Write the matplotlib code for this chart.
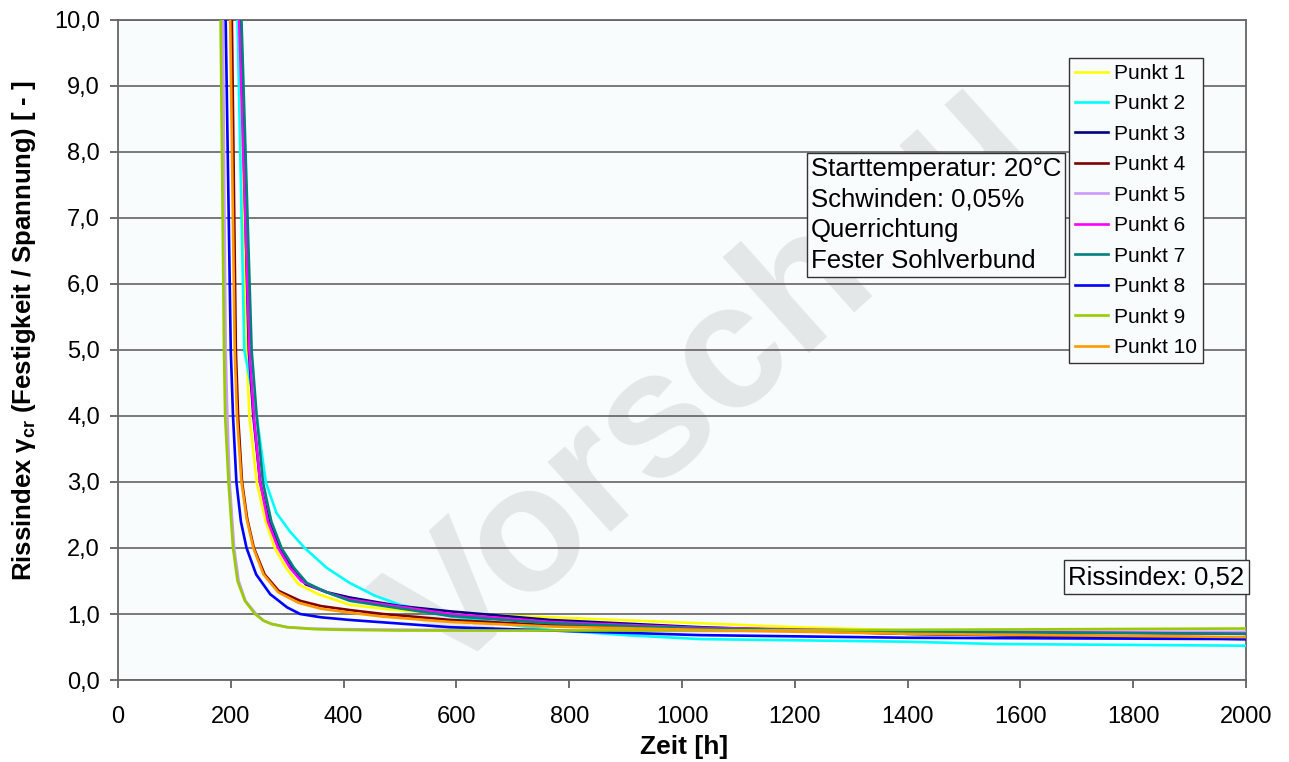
import numpy as np
import matplotlib.pyplot as plt

# Rissindex curves, hours vs. index (strength / stress)
labels = ["Punkt 1", "Punkt 2", "Punkt 3", "Punkt 4", "Punkt 5",
          "Punkt 6", "Punkt 7", "Punkt 8", "Punkt 9", "Punkt 10"]
colors = ["#FFFF00", "#00FFFF", "#000080", "#800000", "#CC99FF",
          "#FF00FF", "#008080", "#0000FF", "#99CC00", "#FF9900"]

t_p1 = [213, 214, 228, 233, 246, 262, 278, 298, 320, 355, 411, 480, 589, 766, 1032, 1200, 1400, 2000]
y_p1 = [11.0, 10.0, 5.0, 4.0, 3.0, 2.4, 2.0, 1.7, 1.45, 1.3, 1.14, 1.07, 1.0, 0.95, 0.86, 0.80, 0.75, 0.70]

t_p2 = [211, 212, 224, 246, 262, 281, 305, 331, 370, 411, 455, 500, 594, 677, 766, 900, 1032, 1400, 1560, 2000]
y_p2 = [11.0, 10.0, 5.0, 4.0, 3.0, 2.53, 2.25, 2.0, 1.7, 1.47, 1.28, 1.14, 0.96, 0.86, 0.76, 0.68, 0.62, 0.58, 0.545, 0.52]

t_p3 = [216, 217, 232, 240, 252, 268, 286, 308, 333, 370, 411, 500, 589, 766, 1032, 1400, 2000]
y_p3 = [11.0, 10.0, 5.0, 4.0, 3.0, 2.4, 2.0, 1.7, 1.45, 1.33, 1.25, 1.12, 1.04, 0.91, 0.80, 0.70, 0.62]

t_p4 = [201, 202, 209, 213, 220, 229, 241, 260, 285, 323, 360, 411, 470, 589, 766, 1032, 1400, 2000]
y_p4 = [11.0, 10.0, 5.0, 4.0, 3.0, 2.45, 2.0, 1.6, 1.35, 1.2, 1.12, 1.06, 1.0, 0.91, 0.83, 0.78, 0.70, 0.64]

t_p5 = [185, 186, 191, 194, 198, 206, 214, 226, 245, 258, 272, 300, 340, 400, 700, 1200, 2000]
y_p5 = [11.0, 10.0, 5.0, 4.0, 3.0, 2.0, 1.5, 1.2, 1.0, 0.9, 0.85, 0.8, 0.78, 0.77, 0.75, 0.74, 0.73]

t_p6 = [214, 215, 233, 241, 252, 266, 284, 305, 325, 350, 380, 411, 589, 766, 1032, 1400, 2000]
y_p6 = [11.0, 10.0, 5.0, 4.0, 3.0, 2.4, 2.0, 1.7, 1.5, 1.4, 1.3, 1.22, 1.0, 0.88, 0.79, 0.74, 0.70]

t_p7 = [218, 219, 237, 246, 257, 272, 290, 312, 335, 370, 411, 589, 766, 1032, 1400, 2000]
y_p7 = [11.0, 10.0, 5.0, 4.0, 3.0, 2.4, 2.0, 1.7, 1.47, 1.33, 1.20, 0.97, 0.86, 0.78, 0.73, 0.70]

t_p8 = [190, 191, 200, 204, 210, 218, 228, 245, 270, 300, 323, 360, 411, 589, 766, 1032, 1400, 2000]
y_p8 = [11.0, 10.0, 5.0, 4.0, 3.0, 2.4, 2.0, 1.6, 1.3, 1.1, 1.0, 0.95, 0.91, 0.80, 0.75, 0.68, 0.64, 0.62]

t_p9 = [181, 182, 188, 190, 196, 204, 212, 225, 243, 258, 272, 300, 350, 400, 500, 700, 1000, 1400, 2000]
y_p9 = [11.0, 10.0, 5.0, 4.0, 3.0, 2.0, 1.5, 1.2, 1.0, 0.9, 0.85, 0.80, 0.77, 0.76, 0.75, 0.75, 0.75, 0.76, 0.78]

t_p10 = [198, 199, 207, 211, 219, 228, 240, 258, 284, 320, 360, 411, 470, 589, 766, 1032, 1400, 2000]
y_p10 = [11.0, 10.0, 5.0, 4.0, 3.0, 2.45, 2.0, 1.6, 1.33, 1.17, 1.08, 1.02, 0.96, 0.88, 0.81, 0.76, 0.70, 0.65]

series_t = [t_p1, t_p2, t_p3, t_p4, t_p5, t_p6, t_p7, t_p8, t_p9, t_p10]
series_y = [y_p1, y_p2, y_p3, y_p4, y_p5, y_p6, y_p7, y_p8, y_p9, y_p10]

x_ticks = list(range(0, 2001, 200))
y_ticks = [0, 1, 2, 3, 4, 5, 6, 7, 8, 9, 10]

plt.rcParams["font.family"] = ["Liberation Sans", "DejaVu Sans"]

fig = plt.figure(figsize=(12.89, 7.62), dpi=100)
ax = fig.add_axes([0.0915, 0.1076, 0.8752, 0.8662])
ax.set_facecolor("#F8FCFC")

# background watermark
ax.text(0.55, 0.5, "Vorschau", transform=fig.transFigure, fontsize=128,
        fontweight="bold", color="#E4E7E7", rotation=42, ha="center",
        va="center", clip_on=False, zorder=0.2)

for tt, yy, c, lab in zip(series_t, series_y, colors, labels):
    ax.plot(tt, yy, color=c, lw=1.9, label=lab, zorder=3)

ax.set_xlim(0, 2000)
ax.set_ylim(0, 10)
ax.set_xticks(x_ticks)
ax.set_yticks(y_ticks)
ax.set_xticklabels([str(v) for v in x_ticks], fontsize=17)
ax.set_yticklabels([f"{v:.1f}".replace(".", ",") for v in y_ticks], fontsize=17)
ax.tick_params(axis="x", direction="out", length=6, width=1.2, color="#555555", pad=13)
ax.tick_params(axis="y", direction="out", length=6, width=1.2, color="#555555", pad=7)
ax.grid(axis="y", color="#555555", lw=1.1, zorder=1)
ax.set_axisbelow(True)
for s in ax.spines.values():
    s.set_color("#666666")
    s.set_linewidth(1.3)

ax.set_xlabel("Zeit [h]", fontsize=19, fontweight="bold")
ax.xaxis.set_label_coords(0.502, -0.084)
ax.set_ylabel(r"Rissindex γ$_{\mathregular{cr}}$ (Festigkeit / Spannung) [ - ]",
              fontsize=18.5, fontweight="bold")
ax.yaxis.set_label_coords(-0.071, 0.53)

leg = ax.legend(loc="upper right", bbox_to_anchor=(0.962, 0.943), fontsize=15,
                frameon=True, fancybox=False, edgecolor="#333333",
                handlelength=1.55, handletextpad=0.3, labelspacing=0.55,
                borderpad=0.3, borderaxespad=0)
leg.get_frame().set_facecolor("#F8FCFC")
leg.get_frame().set_linewidth(1.0)
leg.get_frame().set_alpha(1)

ax.text(1228, 7.93, "Starttemperatur: 20°C\nSchwinden: 0,05%\nQuerrichtung\nFester Sohlverbund",
        fontsize=18.5, ha="left", va="top", linespacing=1.36, zorder=5,
        bbox=dict(boxstyle="square,pad=0.15", fc="#F8FCFC", ec="#333333", lw=1.0))

ax.text(1997, 1.56, "Rissindex: 0,52", fontsize=18.5, ha="right", va="center", zorder=5,
        bbox=dict(boxstyle="square,pad=0.18", fc="#F8FCFC", ec="#333333", lw=1.0))

fig.savefig("out.png", dpi=100)
